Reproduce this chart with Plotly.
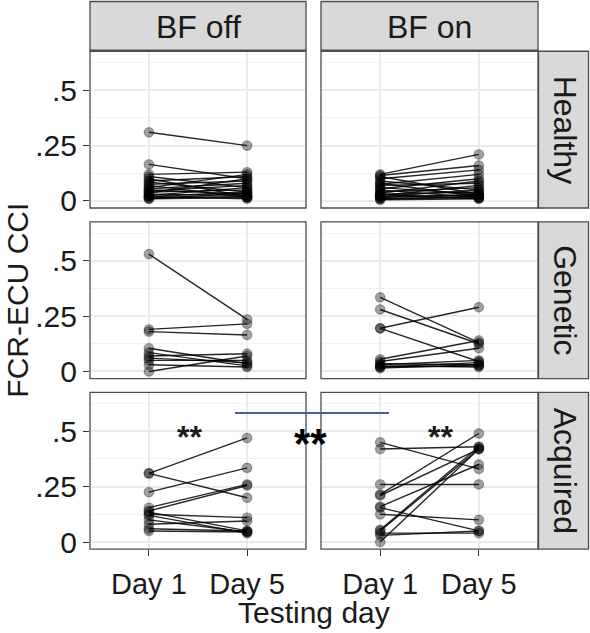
import plotly.graph_objects as go

# ---------------- data ----------------
days = ["Day 1", "Day 5"]
col_labels = ["BF off", "BF on"]
row_labels = ["Healthy", "Genetic", "Acquired"]

healthy_off_d1 = [0.31, 0.165, 0.12, 0.11, 0.10, 0.09, 0.085, 0.075, 0.07, 0.06, 0.055,
                  0.05, 0.045, 0.04, 0.035, 0.03, 0.025, 0.02, 0.02, 0.015, 0.01, 0.01]
healthy_off_d5 = [0.25, 0.10, 0.13, 0.06, 0.02, 0.11, 0.04, 0.09, 0.015, 0.12, 0.08,
                  0.03, 0.07, 0.05, 0.10, 0.025, 0.06, 0.01, 0.04, 0.02, 0.035, 0.015]
healthy_on_d1 = [0.12, 0.115, 0.11, 0.10, 0.09, 0.08, 0.075, 0.07, 0.06, 0.055, 0.05,
                 0.04, 0.035, 0.03, 0.03, 0.025, 0.02, 0.02, 0.015, 0.01, 0.01, 0.005]
healthy_on_d5 = [0.21, 0.16, 0.03, 0.14, 0.05, 0.02, 0.12, 0.08, 0.03, 0.10, 0.015,
                 0.06, 0.09, 0.04, 0.01, 0.07, 0.05, 0.025, 0.03, 0.02, 0.015, 0.01]
genetic_off_d1 = [0.53, 0.19, 0.18, 0.105, 0.085, 0.07, 0.06, 0.05, 0.03, 0.0]
genetic_off_d5 = [0.235, 0.215, 0.165, 0.035, 0.025, 0.08, 0.04, 0.05, 0.02, 0.07]
genetic_on_d1 = [0.335, 0.28, 0.195, 0.195, 0.055, 0.045, 0.035, 0.03, 0.025, 0.02, 0.02, 0.015]
genetic_on_d5 = [0.13, 0.125, 0.29, 0.045, 0.14, 0.105, 0.03, 0.05, 0.02, 0.04, 0.025, 0.03]
acquired_off_d1 = [0.31, 0.31, 0.225, 0.155, 0.14, 0.135, 0.125, 0.12, 0.10, 0.08, 0.06, 0.05]
acquired_off_d5 = [0.47, 0.20, 0.335, 0.26, 0.255, 0.05, 0.11, 0.04, 0.045, 0.095, 0.05, 0.045]
acquired_on_d1 = [0.45, 0.42, 0.26, 0.215, 0.21, 0.16, 0.155, 0.125, 0.055, 0.05, 0.04, 0.03, 0.0]
acquired_on_d5 = [0.33, 0.43, 0.26, 0.49, 0.42, 0.35, 0.05, 0.10, 0.43, 0.42, 0.04, 0.05, 0.42]

y_tickvals = [0, 0.25, 0.5]
y_ticktext = ["0", ".25", ".5"]
y_minor = [0.125, 0.375, 0.625]

panels = [
    [(healthy_off_d1, healthy_off_d5), (healthy_on_d1, healthy_on_d5)],
    [(genetic_off_d1, genetic_off_d5), (genetic_on_d1, genetic_on_d5)],
    [(acquired_off_d1, acquired_off_d5), (acquired_on_d1, acquired_on_d5)],
]

# ---------------- layout geometry (pixels) ----------------
W, H = 590, 633
col_px = [(90, 306), (321, 538)]
row_px = [(52, 211), (225, 384), (398, 557)]

def X(p):
    return p / W

def Y(p):
    return 1 - p / H

FONT = "Liberation Sans, Arial"
fig = go.Figure()
layout = dict(
    width=W, height=H, margin=dict(l=0, r=0, t=0, b=0),
    plot_bgcolor="white", paper_bgcolor="white", showlegend=False,
    font=dict(family=FONT, color="#1a1a1a"),
)
shapes = []
annotations = []

for r in range(3):
    for c in range(2):
        idx = r * 2 + c + 1
        xa = "x" if idx == 1 else f"x{idx}"
        ya = "y" if idx == 1 else f"y{idx}"
        d1, d5 = panels[r][c]
        lx, ly = [], []
        for a, b in zip(d1, d5):
            lx += [days[0], days[1], None]
            ly += [a, b, None]
        px_ = [days[0]] * len(d1) + [days[1]] * len(d5)
        py_ = list(d1) + list(d5)
        fig.add_trace(go.Scatter(
            x=px_, y=py_, mode="markers", xaxis=xa, yaxis=ya,
            marker=dict(size=9.5, color="rgba(0,0,0,0.36)",
                        line=dict(color="rgba(0,0,0,0.3)", width=1.3)),
            hoverinfo="skip"))
        fig.add_trace(go.Scatter(
            x=lx, y=ly, mode="lines", xaxis=xa, yaxis=ya,
            line=dict(color="rgba(0,0,0,0.85)", width=1.4), hoverinfo="skip"))

        x0, x1 = col_px[c]
        y0, y1 = row_px[r]
        xkey = "xaxis" if idx == 1 else f"xaxis{idx}"
        ykey = "yaxis" if idx == 1 else f"yaxis{idx}"
        layout[xkey] = dict(
            domain=[X(x0), X(x1)], anchor=ya, type="category",
            categoryorder="array", categoryarray=days, range=[-0.6, 1.6],
            showgrid=True, gridcolor="#ebebeb", gridwidth=1.6, zeroline=False,
            showticklabels=(r == 2), ticks="outside" if r == 2 else "",
            ticklen=6, tickwidth=1.3, tickcolor="#333333", ticklabelstandoff=3,
            tickfont=dict(size=29, color="#1a1a1a"), fixedrange=True,
        )
        layout[ykey] = dict(
            domain=[Y(y1), Y(y0)], anchor=xa, range=[-0.032, 0.676],
            tickvals=y_tickvals, ticktext=y_ticktext,
            showgrid=True, gridcolor="#ebebeb", gridwidth=1.6, zeroline=False,
            showticklabels=(c == 0), ticks="outside" if c == 0 else "",
            ticklen=6, tickwidth=1.3, tickcolor="#333333",
            tickfont=dict(size=30, color="#1a1a1a"), fixedrange=True,
            minor=dict(tickvals=y_minor, showgrid=True, gridcolor="#f2f2f2",
                       gridwidth=1.0, ticks=""),
        )
        # panel border
        shapes.append(dict(type="rect", xref="paper", yref="paper",
                           x0=X(x0), x1=X(x1), y0=Y(y1), y1=Y(y0),
                           line=dict(color="#4d4d4d", width=1.3),
                           fillcolor="rgba(0,0,0,0)", layer="above"))

# column strips
for c in range(2):
    x0, x1 = col_px[c]
    shapes.append(dict(type="rect", xref="paper", yref="paper",
                       x0=X(x0), x1=X(x1), y0=Y(51), y1=Y(1.5),
                       line=dict(color="#4d4d4d", width=1.3), fillcolor="#d9d9d9"))
    annotations.append(dict(text=col_labels[c], xref="paper", yref="paper",
                            x=X((x0 + x1) / 2), y=Y(27), showarrow=False,
                            xanchor="center", yanchor="middle",
                            font=dict(size=32, color="#1a1a1a")))
# row strips
for r in range(3):
    y0, y1 = row_px[r]
    shapes.append(dict(type="rect", xref="paper", yref="paper",
                       x0=X(538.5), x1=X(588.5), y0=Y(y1), y1=Y(y0),
                       line=dict(color="#4d4d4d", width=1.3), fillcolor="#d9d9d9"))
    annotations.append(dict(text=row_labels[r], xref="paper", yref="paper",
                            x=X(565), y=Y((y0 + y1) / 2), showarrow=False,
                            textangle=90, xanchor="center", yanchor="middle",
                            font=dict(size=32, color="#1a1a1a")))

# axis titles
annotations.append(dict(text="FCR-ECU CCI", xref="paper", yref="paper",
                        x=X(18), y=Y(305), showarrow=False, textangle=-90,
                        xanchor="center", yanchor="middle",
                        font=dict(size=30, color="#1a1a1a")))
annotations.append(dict(text="Testing day", xref="paper", yref="paper",
                        x=X(314), y=Y(621), showarrow=False,
                        xanchor="center", yanchor="middle",
                        font=dict(size=30, color="#1a1a1a")))

# significance markers
shapes.append(dict(type="line", xref="paper", yref="paper",
                   x0=X(235), x1=X(389), y0=Y(419), y1=Y(419),
                   line=dict(color="#4a5ba8", width=2), layer="above"))
annotations.append(dict(text="<b>**</b>", xref="paper", yref="paper", x=X(190), y=Y(443),
                        showarrow=False, xanchor="center", yanchor="middle",
                        font=dict(size=32, color="#1a1a1a")))
annotations.append(dict(text="<b>**</b>", xref="paper", yref="paper", x=X(440), y=Y(443),
                        showarrow=False, xanchor="center", yanchor="middle",
                        font=dict(size=32, color="#1a1a1a")))
annotations.append(dict(text="<b>**</b>", xref="paper", yref="paper", x=X(310), y=Y(450),
                        showarrow=False, xanchor="center", yanchor="middle",
                        font=dict(size=42, color="#000000")))

layout["shapes"] = shapes
layout["annotations"] = annotations
fig.update_layout(**layout)
fig.write_html("out.html")
